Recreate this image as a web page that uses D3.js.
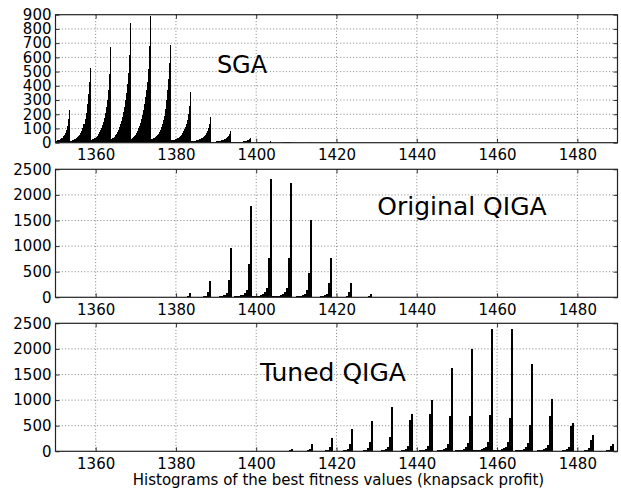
<!DOCTYPE html>
<html><head><meta charset="utf-8">
<script src="https://cdn.jsdelivr.net/npm/d3@7"></script>
<style>
body{margin:0;background:#fff}
svg{display:block}
text{font-family:"DejaVu Sans",sans-serif}
</style>
</head><body>
<svg id="chart" width="621" height="490"></svg>
<script>
// ---------------- data ----------------
const xDomain = [1350, 1490];
const xTicks = [1360, 1380, 1400, 1420, 1440, 1460, 1480];

const panelTitles = ["SGA", "Original QIGA", "Tuned QIGA"];
const xLabel = "Histograms of the best fitness values (knapsack profit)";

const sgaYTicks = [0, 100, 200, 300, 400, 500, 600, 700, 800, 900];
const qigaYTicks = [0, 500, 1000, 1500, 2000, 2500];
const tunedYTicks = [0, 500, 1000, 1500, 2000, 2500];

// histogram bin widths (knapsack profit units); each cluster lists its bins up to the peak bin
const sgaBinWidth = 0.25;
const qigaBinWidth = 0.5;
const tunedBinWidth = 0.5;

// centre of the last (peak) bin of every cluster
const sgaPeaks = [1353.6, 1358.6, 1363.6, 1368.6, 1373.6, 1378.6, 1383.6, 1388.6, 1393.6, 1398.6, 1403.6, 1408.6, 1413.6];
const sgaCounts = [
  [9, 10, 10, 11, 12, 13, 14, 16, 18, 21, 25, 30, 36, 44, 55, 70, 90, 120, 170, 230],
  [14, 15, 17, 20, 23, 27, 32, 38, 46, 56, 68, 84, 105, 130, 165, 210, 275, 340, 430, 525],
  [20, 23, 27, 31, 36, 42, 50, 60, 72, 86, 102, 122, 146, 175, 210, 250, 300, 370, 480, 675],
  [26, 30, 36, 43, 52, 62, 75, 90, 108, 128, 152, 180, 213, 252, 298, 350, 410, 490, 620, 843],
  [28, 33, 40, 48, 57, 68, 82, 100, 118, 140, 165, 195, 230, 275, 320, 370, 430, 520, 680, 890],
  [25, 27, 30, 34, 38, 44, 52, 62, 75, 90, 108, 130, 158, 190, 235, 300, 370, 450, 560, 689],
  [16, 17, 19, 21, 24, 27, 31, 36, 42, 49, 57, 67, 79, 93, 110, 132, 160, 200, 260, 356],
  [10, 11, 12, 13, 14, 16, 18, 20, 23, 26, 30, 35, 41, 48, 57, 68, 82, 102, 132, 180],
  [6, 6, 7, 7, 8, 9, 10, 11, 12, 14, 16, 18, 21, 24, 28, 33, 40, 50, 63, 84],
  [3, 3, 3, 4, 4, 4, 5, 5, 6, 6, 7, 8, 9, 10, 12, 14, 17, 20, 25, 33],
  [1, 1, 1, 1, 1, 2, 2, 2, 2, 2, 3, 3, 3, 4, 4, 5, 6, 7, 8, 10],
  [0, 0, 0, 0, 1, 1, 1, 1, 1, 1, 1, 1, 2, 2, 2, 2, 3, 3, 4, 5],
  [0, 0, 0, 0, 0, 0, 0, 0, 0, 0, 0, 0, 1, 1, 1, 1, 1, 1, 1, 2]
];

const qigaPeaks = [1378.6, 1383.6, 1388.6, 1393.6, 1398.6, 1403.6, 1408.6, 1413.6, 1418.6, 1423.6, 1428.6, 1433.6, 1438.6];
const qigaCounts = [
  [0, 0, 1, 1, 1, 2, 3, 4, 7, 15],
  [1, 1, 2, 2, 3, 4, 6, 10, 25, 82],
  [3, 4, 5, 6, 8, 11, 16, 30, 100, 313],
  [8, 10, 12, 15, 20, 28, 42, 80, 340, 970],
  [14, 17, 21, 27, 36, 50, 75, 150, 660, 1790],
  [18, 21, 26, 33, 44, 62, 95, 190, 760, 2317],
  [18, 21, 26, 33, 44, 62, 95, 190, 770, 2225],
  [13, 15, 19, 24, 32, 45, 70, 140, 480, 1515],
  [7, 8, 10, 13, 17, 24, 36, 70, 270, 764],
  [3, 3, 4, 5, 7, 9, 13, 25, 95, 270],
  [1, 1, 1, 2, 2, 3, 4, 7, 25, 70],
  [0, 0, 0, 0, 1, 1, 1, 2, 5, 15],
  [0, 0, 0, 0, 0, 0, 0, 1, 1, 3]
];

const tunedPeaks = [1403.8, 1408.8, 1413.8, 1418.8, 1423.8, 1428.8, 1433.8, 1438.8, 1443.8, 1448.8, 1453.8, 1458.8, 1463.8, 1468.8, 1473.8, 1478.8, 1483.8, 1488.8];
const tunedCounts = [
  [0, 0, 0, 1, 1, 2, 3, 5, 8, 15],
  [1, 1, 2, 2, 3, 4, 6, 9, 18, 45],
  [2, 2, 3, 4, 5, 7, 10, 18, 45, 140],
  [3, 4, 5, 6, 8, 11, 16, 28, 80, 260],
  [5, 6, 7, 9, 12, 16, 24, 45, 140, 440],
  [6, 7, 9, 11, 15, 20, 30, 60, 190, 600],
  [8, 10, 12, 15, 20, 28, 42, 85, 280, 857],
  [8, 10, 12, 15, 20, 28, 42, 100, 620, 727],
  [10, 12, 15, 19, 25, 35, 52, 110, 720, 1005],
  [12, 14, 17, 22, 30, 42, 65, 140, 680, 1636],
  [14, 16, 20, 26, 35, 50, 75, 160, 690, 2000],
  [16, 18, 22, 28, 38, 55, 85, 180, 700, 2390],
  [16, 18, 22, 28, 38, 55, 85, 180, 660, 2395],
  [15, 17, 20, 26, 35, 50, 78, 160, 520, 1708],
  [12, 14, 17, 22, 30, 42, 65, 130, 680, 1026],
  [8, 10, 12, 15, 20, 28, 42, 90, 500, 552],
  [5, 6, 8, 10, 13, 18, 27, 60, 220, 318],
  [3, 4, 5, 6, 8, 11, 16, 30, 100, 143]
];

// ---------------- layout ----------------
const svg = d3.select("#chart");
const left = 55.5, right = 617.5, panelH = 128;
const panelTops = [14.7, 169.3, 323.3];

const x = d3.scaleLinear().domain(xDomain).range([left, right]);

const panels = [
  {title: panelTitles[0], peaks: sgaPeaks, counts: sgaCounts, bw: sgaBinWidth, yTicks: sgaYTicks, yMax: 900,  tx: 242, ty: 72.5, fs: 24},
  {title: panelTitles[1], peaks: qigaPeaks, counts: qigaCounts, bw: qigaBinWidth, yTicks: qigaYTicks, yMax: 2500, tx: 462, ty: 214.5, fs: 25},
  {title: panelTitles[2], peaks: tunedPeaks, counts: tunedCounts, bw: tunedBinWidth, yTicks: tunedYTicks, yMax: 2500, tx: 333, ty: 381, fs: 25}
];

const defs = svg.append("defs");

panels.forEach((p, idx) => {
  const top = panelTops[idx], bottom = top + panelH;
  const y = d3.scaleLinear().domain([0, p.yMax]).range([bottom, top]);
  const g = svg.append("g");

  // clip
  const cid = "clip" + idx;
  defs.append("clipPath").attr("id", cid).append("rect")
    .attr("x", left).attr("y", top).attr("width", right - left).attr("height", panelH);

  // grid
  const grid = g.append("g").attr("stroke", "#000").attr("stroke-width", 0.8)
    .attr("stroke-dasharray", "1,2.2").attr("opacity", 0.6);
  grid.selectAll("line.vx").data(xTicks).join("line")
    .attr("x1", d => x(d)).attr("x2", d => x(d)).attr("y1", top).attr("y2", bottom);
  grid.selectAll("line.hy").data(p.yTicks.filter(v => v > 0 && v < p.yMax)).join("line")
    .attr("y1", d => y(d)).attr("y2", d => y(d)).attr("x1", left).attr("x2", right);

  // histogram bins: one rect per bin, snapped to whole pixels so neighbours touch
  const bins = [];
  p.peaks.forEach((pk, ci) => {
    const n = p.counts[ci].length;
    p.counts[ci].forEach((v, bi) => {
      const e0 = pk + (bi - n + 0.5) * p.bw;
      const x0 = Math.max(e0, xDomain[0]);
      const x1 = Math.min(e0 + p.bw, xDomain[1]);
      if (v > 0 && x1 > x0) bins.push({x0, x1, v});
    });
  });
  g.append("g").attr("clip-path", `url(#${cid})`).attr("shape-rendering", "crispEdges")
    .selectAll("rect").data(bins).join("rect")
    .attr("x", d => Math.round(x(d.x0)))
    .attr("width", d => Math.max(1, Math.round(x(d.x1)) - Math.round(x(d.x0))))
    .attr("y", d => Math.round(y(d.v)))
    .attr("height", d => Math.max(0, Math.round(bottom) - Math.round(y(d.v))))
    .attr("fill", "#000");

  // axes
  const axB = d3.axisBottom(x).tickValues(xTicks).tickSize(-4).tickPadding(7).tickFormat(d3.format("d"));
  const axT = d3.axisTop(x).tickValues(xTicks).tickSize(-4).tickFormat("");
  const axL = d3.axisLeft(y).tickValues(p.yTicks).tickSize(-4).tickPadding(4).tickFormat(d3.format("d"));
  const axR = d3.axisRight(y).tickValues(p.yTicks).tickSize(-4).tickFormat("");

  const styleAxis = sel => {
    sel.select(".domain").remove();
    sel.selectAll(".tick line").attr("stroke", "#000").attr("stroke-width", 0.8);
    sel.selectAll("text").attr("font-size", 15).attr("fill", "#000")
      .attr("font-family", "DejaVu Sans, sans-serif");
  };
  g.append("g").attr("transform", `translate(0,${bottom})`).call(axB).call(styleAxis);
  g.append("g").attr("transform", `translate(0,${top})`).call(axT).call(styleAxis);
  g.append("g").attr("transform", `translate(${left},0)`).call(axL).call(styleAxis);
  g.append("g").attr("transform", `translate(${right},0)`).call(axR).call(styleAxis);

  // frame
  g.append("rect").attr("x", left).attr("y", top).attr("width", right - left).attr("height", panelH)
    .attr("fill", "none").attr("stroke", "#222").attr("stroke-width", 1.2);

  // title
  g.append("text").attr("x", p.tx).attr("y", p.ty).attr("text-anchor", "middle")
    .attr("font-size", p.fs).attr("fill", "#000").text(p.title);
});

svg.append("text").attr("x", (left + right) / 2 + 2).attr("y", 484.5)
  .attr("text-anchor", "middle").attr("font-size", 15).attr("fill", "#000").text(xLabel);
</script>
</body></html>
